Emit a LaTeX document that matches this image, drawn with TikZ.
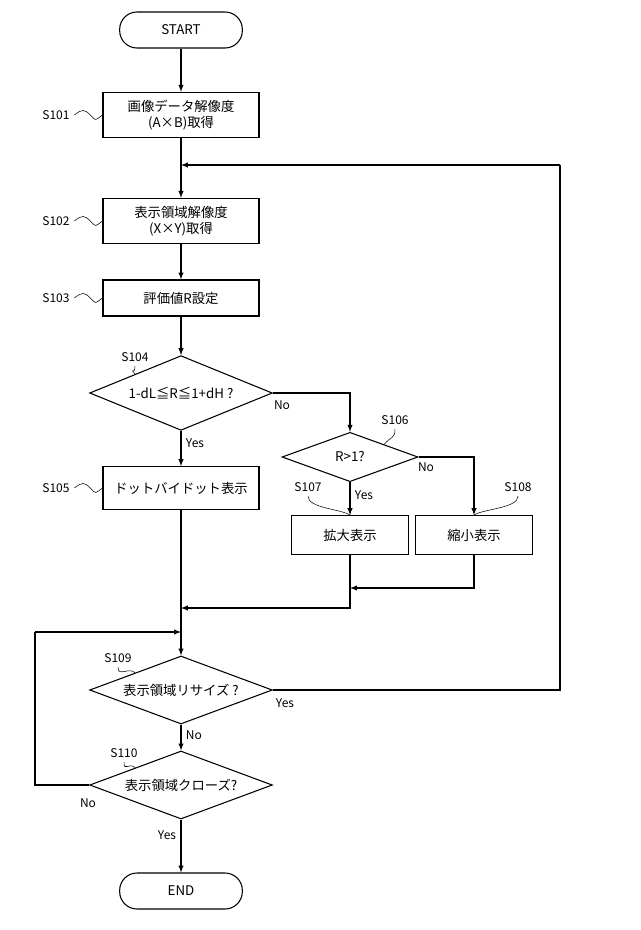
\documentclass[tikz,border=0pt]{standalone}
\usepackage{fontspec}
\setmainfont{Noto Sans CJK JP}
\usetikzlibrary{shapes.geometric}
\tikzset{
  proc/.style={draw,thick,rectangle,minimum width=117pt,minimum height=34pt,align=center,inner sep=1pt},
  smallproc/.style={draw,thick,rectangle,minimum width=88pt,minimum height=29pt,inner sep=1pt},
  term/.style={draw,thick,rounded corners=13pt,minimum width=92pt,minimum height=27pt},
  dec/.style={draw,thick,diamond,aspect=2.6,minimum width=137pt,minimum height=56pt,inner sep=0pt},
  smalldec/.style={draw,thick,diamond,aspect=2.7,minimum width=102pt,minimum height=37pt,inner sep=0pt},
  flow/.style={thick,-latex},
  lbl/.style={font=\fontsize{9}{10}\selectfont}
}
\begin{document}
\begin{tikzpicture}[x=0.75pt,y=-0.75pt,font=\fontsize{10}{12}\selectfont]
  \useasboundingbox (0,0) rectangle (640,930);

  % Nodes
  \node[term] (start) at (181,30) {START};
  \node[proc] (s101) at (181,115) {画像データ解像度\\(A×B)取得};
  \coordinate (loop) at (181,165);
  \node[proc] (s102) at (181,221) {表示領域解像度\\(X×Y)取得};
  \node[proc,minimum height=27pt] (s103) at (181,298) {評価値R設定};
  \node[dec] (s104) at (181,393) {1-dL≦R≦1+dH ?};
  \node[smalldec] (s106) at (350,457) {R>1?};
  \node[proc,minimum height=32pt] (s105) at (181,488) {ドットバイドット表示};
  \node[smallproc] (s107) at (350,535) {拡大表示};
  \node[smallproc] (s108) at (474,535) {縮小表示};
  \coordinate (m1) at (350,588);
  \coordinate (m2) at (181,608);
  \coordinate (m3) at (181,632);
  \node[dec,minimum height=51pt] (s109) at (181,690) {表示領域リサイズ ?};
  \node[dec,minimum height=51pt] (s110) at (181,785) {表示領域クローズ?};
  \node[term] (end) at (181,891) {END};

  % Step labels
  \node[lbl] (l101) at (56,115) {S101};
  \node[lbl] (l102) at (56,221) {S102};
  \node[lbl] (l103) at (56,298) {S103};
  \node[lbl] (l105) at (56,488) {S105};
  \node[lbl] (l104) at (135,357) {S104};
  \node[lbl] (l106) at (395,420) {S106};
  \node[lbl] (l107) at (308,487) {S107};
  \node[lbl] (l108) at (518,487) {S108};
  \node[lbl] (l109) at (118,658) {S109};
  \node[lbl] (l110) at (124,753) {S110};
  \foreach \a/\b in {l101/s101,l102/s102,l103/s103,l105/s105}
    \draw (\a.east) .. controls +(8,-6) and +(-6,-6) .. +(16,0) .. controls +(6,6) and +(-8,6) .. (\b.west);
  \draw (l104.south) .. controls +(0,10) and +(-6,-8) .. (s104.north west);
  \draw (l106.south) .. controls +(0,10) and +(6,-8) .. (s106.north east);
  \draw (l107.south) .. controls +(0,12) and +(-8,-6) .. (s107.north);
  \draw (l108.south) .. controls +(0,12) and +(8,-6) .. (s108.north);
  \draw (l109.south) .. controls +(0,10) and +(-6,-6) .. (s109.north west);
  \draw (l110.south) .. controls +(0,10) and +(-6,-6) .. (s110.north west);

  % Connectors
  \draw[flow] (start) -- (s101);
  \draw[flow] (s101) -- (s102);
  \draw[flow] (s102) -- (s103);
  \draw[flow] (s103) -- (s104);
  \draw[flow] (s104) -- node[pos=0.35,right,lbl] {Yes} (s105);
  \draw[flow] (s104.east) -| (s106.north);
  \node[lbl] at (282,405) {No};
  \draw[flow] (s106) -- node[pos=0.4,right,lbl] {Yes} (s107);
  \draw[flow] (s106.east) -| (s108.north);
  \node[lbl] at (426,467) {No};
  \draw[thick] (s107.south) -- (m1);
  \draw[flow] (s108.south) |- (m1);
  \draw[flow] (m1) |- (m2);
  \draw[thick] (s105.south) -- (m2);
  \draw[flow] (m2) -- (s109);
  \draw[flow] (s109) -- node[pos=0.4,right,lbl] {No} (s110);
  \draw[flow] (s110) -- node[pos=0.3,left,lbl] {Yes} (end);
  \draw[thick] (s109.east) -| (560,165);
  \draw[flow] (560,165) -- (loop);
  \node[lbl] at (285,703) {Yes};
  \draw[thick] (s110.west) -| (35,632);
  \draw[flow] (35,632) -- (m3);
  \node[lbl] at (88,803) {No};
\end{tikzpicture}
\end{document}
